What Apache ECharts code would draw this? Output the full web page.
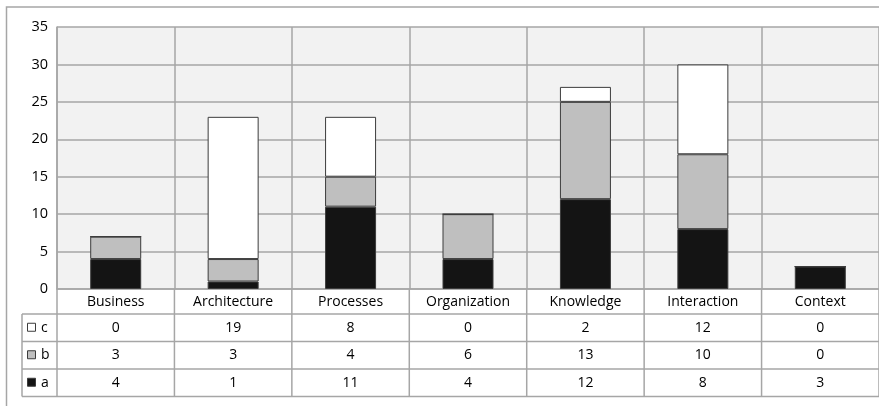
<!DOCTYPE html>
<html>
<head>
<meta charset="utf-8">
<script src="https://cdn.jsdelivr.net/npm/echarts@6/dist/echarts.min.js"></script>
<style>
  html, body { margin: 0; padding: 0; background: #fff; }
  #chart { width: 879px; height: 406px; }
</style>
</head>
<body>
<div id="chart"></div>
<script>
// 数据
const categories = ["Business", "Architecture", "Processes", "Organization", "Knowledge", "Interaction", "Context"];
const seriesNames = ["a", "b", "c"];
const valuesA = [4, 1, 11, 4, 12, 8, 3];
const valuesB = [3, 3, 4, 6, 13, 10, 0];
const valuesC = [0, 19, 8, 0, 2, 12, 0];
const yMin = 0, yMax = 35, yStep = 5;

const colors = { a: "#141414", b: "#bfbfbf", c: "#ffffff" };
const lineColor = "#a6a6a6";
const font = "'Open Sans', Lato, sans-serif";

const myChart = echarts.init(document.getElementById("chart"));

function barSeries(name, data) {
  return {
    name: name,
    type: "bar",
    stack: "total",
    data: data,
    barWidth: 51,
    itemStyle: { color: colors[name], borderColor: "#3c3c3c", borderWidth: 1 },
    silent: true
  };
}

const option = {
  animation: false,
  grid: {
    left: 57, top: 27, width: 826, height: 262,
    show: true, backgroundColor: "#f2f2f2", borderWidth: 0
  },
  xAxis: {
    type: "category",
    data: categories,
    axisLine: { show: true, lineStyle: { color: lineColor, width: 1.5 } },
    axisTick: { show: false },
    splitLine: { show: true, interval: 0, lineStyle: { color: lineColor, width: 1.5 } },
    axisLabel: { interval: 0, color: "#000", fontSize: 14, fontFamily: font, margin: 6 }
  },
  yAxis: {
    type: "value",
    min: yMin, max: yMax, interval: yStep,
    axisLine: { show: true, lineStyle: { color: lineColor, width: 1.5 } },
    axisTick: { show: false },
    splitLine: { show: true, lineStyle: { color: lineColor, width: 1.5 } },
    axisLabel: { color: "#000", fontSize: 14.5, fontFamily: font, margin: 9 }
  },
  series: [
    barSeries("a", valuesA),
    barSeries("b", valuesB),
    barSeries("c", valuesC)
  ]
};
myChart.setOption(option);

// 数据表（行顺序 c, b, a）
const rows = [
  { name: "c", values: valuesC },
  { name: "b", values: valuesB },
  { name: "a", values: valuesA }
];
const rowTop = 314, rowH = 27.5, tableLeft = 22;
const plotLeft = 57;
const axisY = myChart.convertToPixel({ yAxisIndex: 0 }, 0);
const c0 = myChart.convertToPixel({ xAxisIndex: 0 }, categories[0]);
const c1 = myChart.convertToPixel({ xAxisIndex: 0 }, categories[1]);
const band = c1 - c0;
const plotRight = c0 - band / 2 + band * categories.length;
const tableBottom = rowTop + rowH * rows.length;

const graphic = [];
const line = (x1, y1, x2, y2) => ({
  type: "line", silent: true, z: 5,
  shape: { x1: x1, y1: y1, x2: x2, y2: y2 },
  style: { stroke: lineColor, lineWidth: 1.5 }
});

// 外框
graphic.push({
  type: "rect", silent: true, z: -1,
  shape: { x: 6.5, y: 7, width: 1000, height: 500 },
  style: { fill: null, stroke: lineColor, lineWidth: 1.5 }
});

// 横线
for (let r = 0; r <= rows.length; r++) {
  const y = rowTop + r * rowH;
  graphic.push(line(tableLeft, y, plotRight, y));
}
// 竖线
graphic.push(line(tableLeft, rowTop, tableLeft, tableBottom));
graphic.push(line(plotLeft, axisY, plotLeft, tableBottom));
for (let i = 0; i < categories.length; i++) {
  const cx = myChart.convertToPixel({ xAxisIndex: 0 }, categories[i]);
  graphic.push(line(cx + band / 2, axisY, cx + band / 2, tableBottom));
}

rows.forEach((row, r) => {
  const cy = rowTop + r * rowH + rowH / 2;
  // 图例方块
  graphic.push({
    type: "rect", silent: true, z: 6,
    shape: { x: 27.5, y: cy - 4.5, width: 8, height: 8 },
    style: { fill: colors[row.name], stroke: "#3c3c3c", lineWidth: 1 }
  });
  graphic.push({
    type: "text", silent: true, z: 6,
    x: 41, y: cy,
    style: { text: row.name, fill: "#000", font: "14px " + font, verticalAlign: "middle", align: "left" }
  });
  row.values.forEach((v, i) => {
    const cx = myChart.convertToPixel({ xAxisIndex: 0 }, categories[i]);
    graphic.push({
      type: "text", silent: true, z: 6,
      x: cx, y: cy,
      style: { text: String(v), fill: "#000", font: "14px " + font, align: "center", verticalAlign: "middle" }
    });
  });
});

myChart.setOption({ graphic: graphic });
</script>
</body>
</html>
